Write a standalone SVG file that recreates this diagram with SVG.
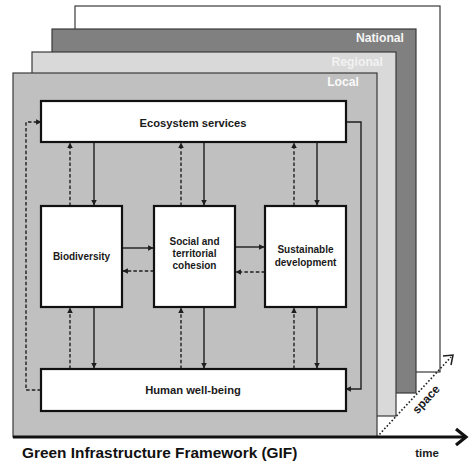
<svg xmlns="http://www.w3.org/2000/svg" width="474" height="468" viewBox="0 0 474 468">
  <style>
    .layer { stroke: #3a3a3a; stroke-width: 1.2; }
    .box { fill: #ffffff; stroke: #111111; stroke-width: 2.2; }
    .lbl { font-family: "Liberation Sans", Arial, sans-serif; font-weight: bold; fill: #1a1a1a; text-anchor: middle; }
    .scale { font-family: "Liberation Sans", Arial, sans-serif; font-weight: bold; font-size: 12.2px; text-anchor: end; }
    .solid { fill: none; stroke: #1e1e1e; stroke-width: 1.4; marker-end: url(#ah); }
    .dash { fill: none; stroke: #1e1e1e; stroke-width: 1.4; stroke-dasharray: 3.5 2.2; marker-end: url(#ah); }
    .plain { fill: none; stroke: #1e1e1e; stroke-width: 1.4; }
    .plaindash { fill: none; stroke: #1e1e1e; stroke-width: 1.4; stroke-dasharray: 3.5 2.2; }
  </style>
  <defs>
    <marker id="ah" viewBox="0 0 10 10" refX="9" refY="5" markerWidth="5.5" markerHeight="5.5" markerUnits="userSpaceOnUse" orient="auto">
      <path d="M0,0 L10,5 L0,10 z" fill="#1e1e1e"/>
    </marker>
  </defs>

  <rect width="474" height="468" fill="#ffffff"/>

  <!-- stacked spatial scales -->
  <g id="scale-back">
    <rect class="layer" x="75" y="6" width="365" height="366" fill="#ffffff"/>
  </g>
  <g id="scale-national">
    <rect class="layer" x="52" y="29" width="364" height="364" fill="#808080"/>
    <text class="scale" x="404" y="42" fill="#f4f4f4">National</text>
  </g>
  <g id="scale-regional">
    <rect class="layer" x="32" y="52" width="364" height="364" fill="#d9d9d9"/>
    <text class="scale" x="383" y="66" fill="#f2f2f2">Regional</text>
  </g>
  <g id="scale-local">
    <rect class="layer" x="13" y="73" width="364" height="364" fill="#c0c0c0"/>
    <text class="scale" x="359" y="86" fill="#fafafa">Local</text>
  </g>

  <!-- axes -->
  <g id="axes">
    <line x1="377" y1="437" x2="451" y2="357" stroke="#1e1e1e" stroke-width="1.6" stroke-dasharray="1.6 2"/>
    <polyline points="443,356 453,355 451,365" fill="none" stroke="#1e1e1e" stroke-width="1.5"/>
    <line x1="13" y1="437" x2="464" y2="437" stroke="#111111" stroke-width="3"/>
    <polyline points="456,429 466,437 456,445" fill="none" stroke="#111111" stroke-width="3.2"/>
    <text x="427" y="457" font-family="'Liberation Sans', Arial, sans-serif" font-weight="bold" font-size="11.5" fill="#1a1a1a" text-anchor="middle">time</text>
    <text transform="translate(429,402) rotate(-47)" font-family="'Liberation Sans', Arial, sans-serif" font-weight="bold" font-size="12" fill="#1a1a1a" text-anchor="middle">space</text>
  </g>

  <!-- connectors -->
  <g id="connectors">
    <!-- loops around the framework -->
    <polyline class="dash" points="41,390 26,390 26,122 41,122"/>
    <polyline class="solid" points="346,122 361,122 361,389 346,389"/>

    <!-- ecosystem services to the three pillars -->
    <line class="dash" x1="70" y1="206" x2="70" y2="143"/>
    <line class="solid" x1="94" y1="142" x2="94" y2="205"/>
    <line class="dash" x1="181" y1="206" x2="181" y2="143"/>
    <line class="solid" x1="204" y1="142" x2="204" y2="205"/>
    <line class="dash" x1="294" y1="206" x2="294" y2="143"/>
    <line class="solid" x1="317" y1="142" x2="317" y2="205"/>

    <!-- the three pillars to human well-being -->
    <line class="dash" x1="70" y1="369" x2="70" y2="308"/>
    <line class="solid" x1="94" y1="307" x2="94" y2="368"/>
    <line class="dash" x1="181" y1="369" x2="181" y2="308"/>
    <line class="solid" x1="204" y1="307" x2="204" y2="368"/>
    <line class="dash" x1="294" y1="369" x2="294" y2="308"/>
    <line class="solid" x1="317" y1="307" x2="317" y2="368"/>

    <!-- links between pillars -->
    <line class="solid" x1="122" y1="248" x2="153" y2="248"/>
    <line class="dash" x1="154" y1="271" x2="123" y2="271"/>
    <line class="solid" x1="235" y1="247" x2="264" y2="247"/>
    <line class="dash" x1="265" y1="272" x2="236" y2="272"/>
  </g>

  <!-- nodes -->
  <g id="ecosystem-services">
    <rect class="box" x="41" y="101" width="305" height="41"/>
    <text class="lbl" x="193" y="127" font-size="11.2">Ecosystem services</text>
  </g>
  <g id="biodiversity">
    <rect class="box" x="41" y="206" width="81" height="101"/>
    <text class="lbl" x="81.5" y="260" font-size="10">Biodiversity</text>
  </g>
  <g id="social-cohesion">
    <rect class="box" x="154" y="206" width="81" height="101"/>
    <text class="lbl" x="194.5" y="245" font-size="10">Social and</text>
    <text class="lbl" x="194.5" y="257" font-size="10">territorial</text>
    <text class="lbl" x="194.5" y="269" font-size="10">cohesion</text>
  </g>
  <g id="sustainable-development">
    <rect class="box" x="265" y="206" width="81" height="101"/>
    <text class="lbl" x="305.5" y="253" font-size="10">Sustainable</text>
    <text class="lbl" x="305.5" y="266" font-size="10">development</text>
  </g>
  <g id="human-well-being">
    <rect class="box" x="41" y="369" width="305" height="42"/>
    <text class="lbl" x="193" y="394" font-size="11.2">Human well-being</text>
  </g>

  <text x="22" y="458" font-family="'Liberation Sans', Arial, sans-serif" font-weight="bold" font-size="15.4" fill="#111111">Green Infrastructure Framework (GIF)</text>
</svg>
